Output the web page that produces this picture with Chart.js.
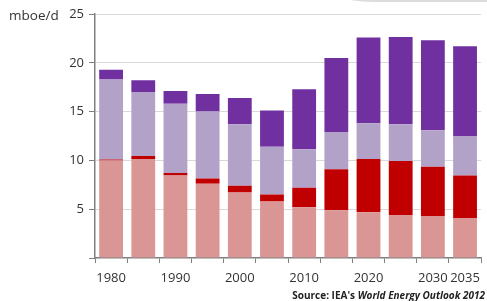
<!DOCTYPE html>
<html>
<head>
<meta charset="utf-8">
<script src="https://cdn.jsdelivr.net/npm/chart.js@4"></script>
<style>
  html, body { margin: 0; padding: 0; background: #fff; }
  #wrap { position: relative; width: 487px; height: 301px; overflow: hidden; font-family: "Open Sans", sans-serif; }
  #unit { position: absolute; left: 9px; top: 6px; font-size: 13.5px; color: #333; }
  #source { position: absolute; right: 2px; top: 288px; font-size: 10px; font-weight: bold; color: #222; }
  #arc { position: absolute; left: 335px; top: -8px; width: 170px; height: 10px; background: #dcdcdc; border-bottom-left-radius: 40px 10px; }
</style>
</head>
<body>
<div id="wrap">
  <canvas id="oilChart" width="487" height="301"></canvas>
  <div id="arc"></div>
  <div id="unit">mboe/d</div>
  <div id="source">Source: IEA's <i>World Energy Outlook 2012</i></div>
</div>
<script>
const ctx = document.getElementById("oilChart");

// years on the x axis, only some get a label
const years = ["1980", "1985", "1990", "1995", "2000", "2005", "2010", "2015", "2020", "2025", "2030", "2035"];
const yearLabels = ["1980", "", "1990", "", "2000", "", "2010", "", "2020", "", "2030", "2035"];

// stacked segments, bottom to top (mboe/d)
const pinkValues = [10.0, 10.15, 8.45, 7.6, 6.7, 5.8, 5.2, 4.9, 4.7, 4.4, 4.3, 4.1];
const redValues = [0.1, 0.3, 0.25, 0.55, 0.7, 0.7, 2.0, 4.2, 5.45, 5.55, 5.05, 4.35];
const lightPurpleValues = [8.2, 6.55, 7.1, 6.85, 6.3, 4.9, 3.95, 3.8, 3.65, 3.75, 3.75, 4.0];
const darkPurpleValues = [1.0, 1.2, 1.3, 1.8, 2.7, 3.7, 6.15, 7.6, 8.8, 8.95, 9.2, 9.25];

const yTicks = [0, 5, 10, 15, 20, 25];

function bar(data, color) {
  return {
    data,
    backgroundColor: color,
    borderWidth: 0,
    barPercentage: 0.74,
    categoryPercentage: 1.0,
  };
}

new Chart(ctx, {
  type: "bar",
  data: {
    labels: years,
    datasets: [
      bar(pinkValues, "#d99694"),
      bar(redValues, "#c00000"),
      bar(lightPurpleValues, "#b3a2c7"),
      bar(darkPurpleValues, "#7030a0"),
    ],
  },
  options: {
    responsive: false,
    animation: false,
    layout: { padding: { top: 14, right: 2, bottom: 0, left: 0 } },
    plugins: {
      legend: { display: false },
      tooltip: { enabled: false },
    },
    scales: {
      x: {
        stacked: true,
        grid: {
          drawOnChartArea: false,
          offset: true,
          tickLength: 5,
          color: "#808080",
        },
        border: { color: "#808080", width: 1.5 },
        ticks: {
          autoSkip: false,
          maxRotation: 0,
          padding: 7,
          color: "#333",
          font: { family: "Open Sans", size: 13 },
          callback: (v, i) => yearLabels[i],
        },
        afterFit: (s) => { s.height = 43; },
      },
      y: {
        stacked: true,
        min: 0,
        max: 25,
        afterBuildTicks: (s) => { s.ticks = yTicks.map((v) => ({ value: v })); },
        grid: {
          color: (c) => (c.tick && c.tick.value === 0 ? "rgba(0,0,0,0)" : "#d9d9d9"),
          tickColor: "#808080",
          tickLength: 6,
        },
        border: { color: "#808080", width: 1.5 },
        ticks: {
          padding: 5,
          color: "#333",
          font: { family: "Open Sans", size: 13 },
          callback: (v) => (v === 0 ? "" : v),
        },
        afterFit: (s) => { s.width = 95; },
      },
    },
  },
});
</script>
</body>
</html>
